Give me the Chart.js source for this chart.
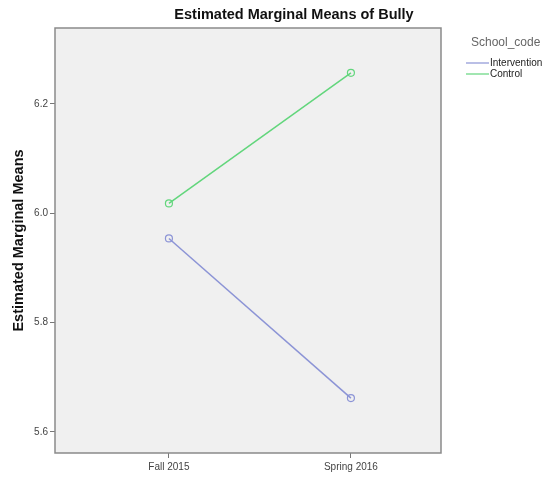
<!DOCTYPE html>
<html><head><meta charset="utf-8">
<script src="https://cdn.jsdelivr.net/npm/chart.js@4/dist/chart.umd.min.js"></script>
<style>html,body{margin:0;padding:0;background:#fff}#wrap{width:548px;height:478px}</style>
</head><body><div id="wrap"><canvas id="c" width="548" height="478"></canvas></div>
<script>
const categories = ["Fall 2015", "Spring 2016"];
const seriesNames = ["Intervention", "Control"];
const interventionValues = [5.954, 5.662];
const controlValues = [6.018, 6.257];
const yTicks = [5.6, 5.8, 6.0, 6.2];
const chartTitle = "Estimated Marginal Means of Bully";
const yAxisTitle = "Estimated Marginal Means";
const legendTitle = "School_code";
const colors = ["#8c94d6", "#62d67c"];

const FONT = "'Liberation Sans', Arial, sans-serif";

const decor = {
  id: 'decor',
  beforeDraw(chart) {
    const {ctx, chartArea: a} = chart;
    ctx.save();
    ctx.fillStyle = '#f0f0f0';
    ctx.fillRect(a.left, a.top, a.right - a.left, a.bottom - a.top);
    ctx.restore();
  },
  afterDraw(chart) {
    const {ctx, chartArea: a} = chart;
    ctx.save();
    ctx.strokeStyle = '#8a8a8a';
    ctx.lineWidth = 1.5;
    ctx.strokeRect(a.left, a.top, a.right - a.left, a.bottom - a.top);
    // title
    ctx.fillStyle = '#111';
    ctx.font = "bold 14.5px " + FONT;
    ctx.textAlign = 'center';
    ctx.textBaseline = 'middle';
    ctx.fillText(chartTitle, 294, 15);
    // legend
    ctx.textAlign = 'left';
    ctx.fillStyle = '#666';
    ctx.font = "12px " + FONT;
    ctx.fillText(legendTitle, 471, 43);
    ctx.font = "10px " + FONT;
    ctx.fillStyle = '#222';
    seriesNames.forEach((n, i) => {
      const y = 63 + i * 11;
      ctx.strokeStyle = colors[i];
      ctx.lineWidth = 1.2;
      ctx.beginPath(); ctx.moveTo(466, y); ctx.lineTo(489, y); ctx.stroke();
      ctx.fillText(n, 490, y);
    });
    ctx.restore();
  }
};

const mk = (vals) => vals.map((v, i) => ({x: i + 1, y: v}));

new Chart(document.getElementById('c'), {
  type: 'line',
  data: {
    datasets: [
      {label: seriesNames[0], data: mk(interventionValues), borderColor: colors[0], backgroundColor: 'rgba(0,0,0,0)',
       pointBorderColor: colors[0], pointBackgroundColor: 'rgba(0,0,0,0)', pointRadius: 3.5, pointBorderWidth: 1.2, borderWidth: 1.5},
      {label: seriesNames[1], data: mk(controlValues), borderColor: colors[1], backgroundColor: 'rgba(0,0,0,0)',
       pointBorderColor: colors[1], pointBackgroundColor: 'rgba(0,0,0,0)', pointRadius: 3.5, pointBorderWidth: 1.2, borderWidth: 1.5}
    ]
  },
  options: {
    responsive: false, animation: false, maintainAspectRatio: false,
    layout: {padding: {left: 0, right: 107, top: 28, bottom: 0}},
    plugins: {legend: {display: false}, title: {display: false}, tooltip: {enabled: false}},
    scales: {
      x: {
        type: 'linear', min: 0.374, max: 2.495,
        afterBuildTicks: (s) => { s.ticks = categories.map((c, i) => ({value: i + 1})); },
        afterFit: (s) => { s.height = 25; },
        ticks: {callback: (v) => categories[v - 1] || '', color: '#444', font: {family: FONT, size: 10}, padding: 3, maxRotation: 0, autoSkip: false},
        grid: {drawOnChartArea: false, tickLength: 5, color: '#777', lineWidth: 1},
        border: {display: false}
      },
      y: {
        type: 'linear', min: 5.5615, max: 6.339,
        afterBuildTicks: (s) => { s.ticks = yTicks.map(v => ({value: v})); },
        afterFit: (s) => { s.width = 55; },
        ticks: {callback: (v) => v.toFixed(1), color: '#444', font: {family: FONT, size: 10}, padding: 2},
        grid: {drawOnChartArea: false, tickLength: 5, color: '#777', lineWidth: 1},
        border: {display: false},
        title: {display: true, text: yAxisTitle, color: '#111', font: {family: FONT, size: 14.5, weight: 'bold'}, padding: {top: 10, bottom: 0}}
      }
    }
  },
  plugins: [decor]
});
</script></body></html>
